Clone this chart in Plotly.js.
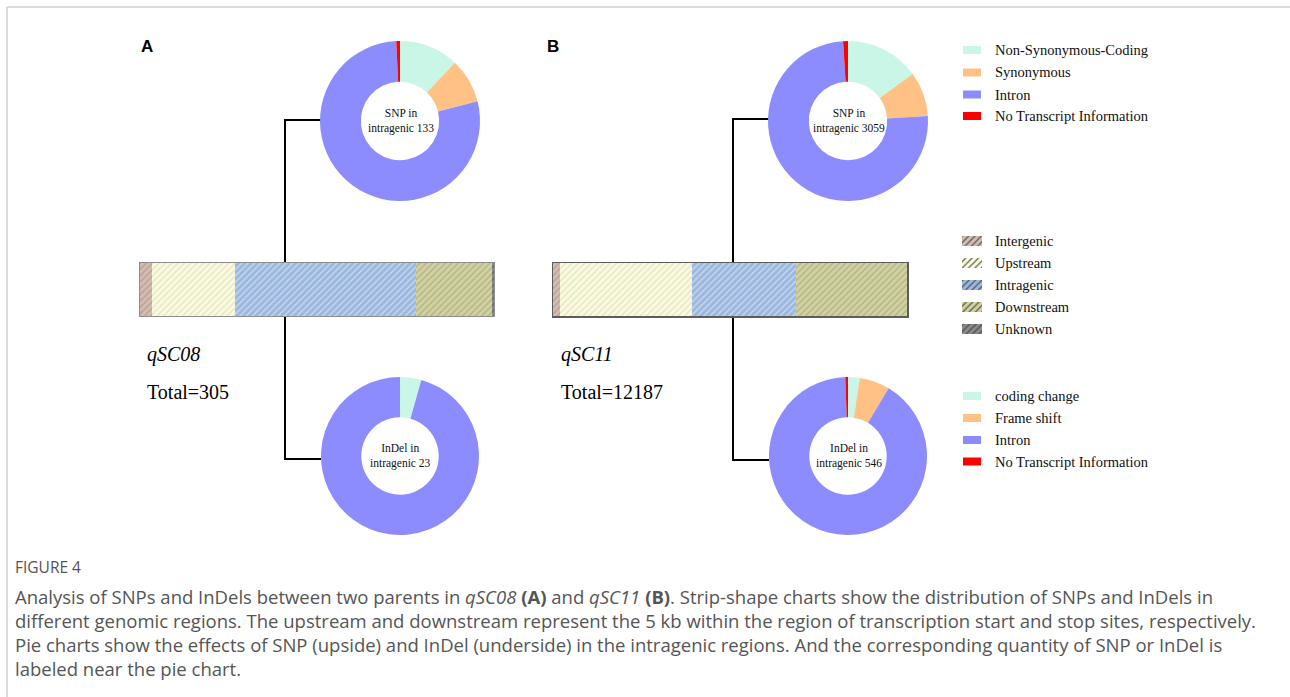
<!DOCTYPE html>
<html><head><meta charset="utf-8">
<script src="https://cdn.plot.ly/plotly-3.0.1.min.js"></script>
<style>html,body{margin:0;padding:0;background:#fff;}#chart{width:1290px;height:697px;}</style>
</head><body><div id="chart"></div>
<script>
// ---------- data ----------
const snpLabels = ["Non-Synonymous-Coding", "Synonymous", "Intron", "No Transcript Information"];
const snpA = [16, 12, 104, 1];          // total 133
const snpB = [459, 275, 2295, 30];      // total 3059
const indelLabels = ["coding change", "Frame shift", "Intron", "No Transcript Information"];
const indelA = [1, 0, 22, 0];           // total 23
const indelB = [13, 34, 496, 3];        // total 546
const regionLabels = ["Intergenic", "Upstream", "Intragenic", "Downstream", "Unknown"];
const regionA = [10, 72, 156, 65, 2];   // total 305
const regionB = [240, 4530, 3605, 3812, 0]; // total 12187
const qtlNames = ["qSC08", "qSC11"];

// ---------- styles ----------
const W = 1290, H = 697;
const px = x => x / W, py = y => 1 - y / H;
const pieColors = ["#c9f6e6", "#ffc184", "#8c8cff", "#ff0000"];
const regionColors = ["#d6bcae", "#fbfbdc", "#9bb8e0", "#d2d29c", "#8a8a8a"];
const regionStripe = ["#a89a94", "#dcdcc8", "#d8e2f0", "#a8a890", "#5a5a5a"];
const serif = "Liberation Serif, Times New Roman, serif";
const sum = a => a.reduce((s, v) => s + v, 0);

function pie(values, labels, box) {
  return {
    type: "pie", values: values, labels: labels, sort: false, direction: "clockwise",
    rotation: 0, hole: 0.49, textinfo: "none", hoverinfo: "skip", showlegend: false,
    marker: {colors: pieColors, line: {width: 0}},
    domain: {x: [px(box[0]), px(box[2])], y: [py(box[3]), py(box[1])]}
  };
}

const traces = [
  pie(snpA, snpLabels, [320, 41, 480, 201]),
  pie(indelA, indelLabels, [321, 377, 479, 535]),
  pie(snpB, snpLabels, [768, 41, 928, 201]),
  pie(indelB, indelLabels, [769, 377, 927, 535])
];

const pat = fg => ({shape: "/", fillmode: "overlay", fgcolor: fg, fgopacity: 0.85, size: 4.5, solidity: 0.28});

function stripTraces(vals, xa, ya) {
  return vals.map((v, i) => ({
    type: "bar", orientation: "h", x: [v], y: [0], width: 1, xaxis: xa, yaxis: ya,
    name: regionLabels[i], showlegend: false, hoverinfo: "skip",
    marker: {color: regionColors[i], line: {width: 0}, pattern: pat(regionStripe[i])}
  }));
}
traces.push(...stripTraces(regionA, "x", "y"));
traces.push(...stripTraces(regionB, "x2", "y2"));

// legend swatches for hatched regions
traces.push({
  type: "bar", orientation: "h", x: regionLabels.map(() => 1), y: regionLabels.map((_, i) => i),
  width: 0.45, xaxis: "x3", yaxis: "y3", showlegend: false, hoverinfo: "skip",
  marker: {color: regionColors, line: {width: 0}, pattern: pat(regionStripe)}
});

const hidden = {showgrid: false, zeroline: false, showticklabels: false, ticks: ""};
const layout = {
  width: W, height: H, margin: {l: 0, r: 0, t: 0, b: 0},
  paper_bgcolor: "#fff", plot_bgcolor: "rgba(0,0,0,0)", barmode: "stack", showlegend: false,
  xaxis: Object.assign({domain: [px(140), px(494)], range: [0, sum(regionA)], showline: true, mirror: true, linecolor: "#8c8c8c", linewidth: 1}, hidden),
  yaxis: Object.assign({domain: [py(316), py(263)], range: [-0.5, 0.5], showline: true, mirror: true, linecolor: "#8c8c8c", linewidth: 1}, hidden),
  xaxis2: Object.assign({domain: [px(553), px(907)], range: [0, sum(regionB)], showline: true, mirror: true, linecolor: "#5c5c5c", linewidth: 1.5, anchor: "y2"}, hidden),
  yaxis2: Object.assign({domain: [py(316), py(263)], range: [-0.5, 0.5], showline: true, mirror: true, linecolor: "#5c5c5c", linewidth: 1.5, anchor: "x2"}, hidden),
  xaxis3: Object.assign({domain: [px(962), px(982)], range: [0, 1], anchor: "y3", showline: false}, hidden),
  yaxis3: Object.assign({domain: [py(340), py(230)], range: [4.5, -0.5], anchor: "x3", showline: false}, hidden),
  shapes: [], annotations: []
};

// page frame
layout.shapes.push({type: "line", xref: "paper", yref: "paper", x0: px(7), x1: 1, y0: py(7), y1: py(7), line: {color: "#cfcfcf", width: 1.5}});
layout.shapes.push({type: "line", xref: "paper", yref: "paper", x0: px(7), x1: px(7), y0: py(7), y1: 0, line: {color: "#cfcfcf", width: 1.5}});

// connectors
function connector(xv, yTop, yBot, xEnd) {
  const ln = {color: "#000", width: 2};
  layout.shapes.push({type: "path", xref: "paper", yref: "paper", layer: "below",
    path: `M ${px(xEnd)} ${py(yTop)} L ${px(xv)} ${py(yTop)} L ${px(xv)} ${py(yBot)} L ${px(xEnd)} ${py(yBot)}`,
    line: ln});
}
connector(285, 120, 459, 321);
connector(733, 119, 460, 769);

// pie legend swatches
function pieLegend(labels, yc) {
  labels.forEach((lab, i) => {
    const y = yc[i];
    layout.shapes.push({type: "rect", xref: "paper", yref: "paper", x0: px(963), x1: px(981), y0: py(y + 4), y1: py(y - 4), fillcolor: pieColors[i], line: {width: 0}});
    layout.annotations.push({xref: "paper", yref: "paper", x: px(993), y: py(y), xanchor: "left", yanchor: "middle", showarrow: false, text: lab, font: {family: serif, size: 14.5, color: "#111"}});
  });
}
pieLegend(snpLabels, [50, 72.5, 94.5, 116]);
pieLegend(indelLabels, [396, 418, 440, 461.5]);
regionLabels.forEach((lab, i) => {
  layout.annotations.push({xref: "paper", yref: "paper", x: px(993), y: py(241 + 22 * i), xanchor: "left", yanchor: "middle", showarrow: false, text: lab, font: {family: serif, size: 14.5, color: "#111"}});
});

// pie centre labels
function centre(x, y, txt) {
  layout.annotations.push({xref: "paper", yref: "paper", x: px(x), y: py(y), xanchor: "center", yanchor: "middle", showarrow: false, text: txt, font: {family: serif, size: 11.5, color: "#111"}});
}
centre(401, 121, "SNP in<br>intragenic " + sum(snpA));
centre(849, 121, "SNP in<br>intragenic " + sum(snpB));
centre(401, 456, "InDel in<br>intragenic " + sum(indelA));
centre(849, 456, "InDel in<br>intragenic " + sum(indelB));

// panel letters & qtl text
const plain = (x, y, text, font, anchor) => layout.annotations.push({xref: "paper", yref: "paper", x: px(x), y: py(y), xanchor: anchor || "left", yanchor: "middle", showarrow: false, text: text, font: font});
plain(139, 47, "<b>A</b>", {family: "Liberation Sans, Arial, sans-serif", size: 17, color: "#000"});
plain(545, 47, "<b>B</b>", {family: "Liberation Sans, Arial, sans-serif", size: 17, color: "#000"});
plain(145, 355, "<i>" + qtlNames[0] + "</i>", {family: serif, size: 20, color: "#000"});
plain(145, 392, "Total=" + sum(regionA), {family: serif, size: 20, color: "#000"});
plain(559, 355, "<i>" + qtlNames[1] + "</i>", {family: serif, size: 20, color: "#000"});
plain(559, 392, "Total=" + sum(regionB), {family: serif, size: 20, color: "#000"});

// caption
const capFont = {family: "Open Sans, sans-serif", size: 18.5, color: "#555"};
plain(13, 567, "FIGURE 4", {family: "Open Sans, sans-serif", size: 15.5, color: "#555"});
const capLines = [
  "Analysis of SNPs and InDels between two parents in <i>qSC08</i> <b>(A)</b> and <i>qSC11</i> <b>(B)</b>. Strip-shape charts show the distribution of SNPs and InDels in",
  "different genomic regions. The upstream and downstream represent the 5 kb within the region of transcription start and stop sites, respectively.",
  "Pie charts show the effects of SNP (upside) and InDel (underside) in the intragenic regions. And the corresponding quantity of SNP or InDel is",
  "labeled near the pie chart."
];
capLines.forEach((t, i) => plain(13, 596 + 24 * i, t, capFont));

Plotly.newPlot("chart", traces, layout, {staticPlot: true});
</script></body></html>
